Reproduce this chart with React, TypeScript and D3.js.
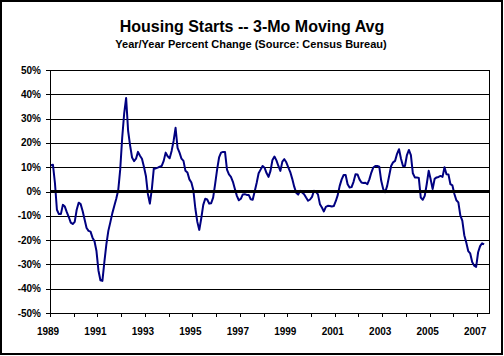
import React from "react";
import * as d3 from "d3";

const title = "Housing Starts -- 3-Mo Moving Avg";
const subtitle = "Year/Year Percent Change (Source: Census Bureau)";

// Monthly, starting Jan 1989 (percent, year/year change of 3-mo moving avg)
const values1989to1994: number[] = [
  10.8, 11.0, 3.5, -7.5, -9.3, -9.3, -5.5, -6.2, -8.5, -10.5, -12.8, -13.4,
  -12.5, -7.5, -4.6, -5.2, -8.0, -11.5, -15.0, -16.2, -16.5, -19.0, -20.5, -24.5,
  -32.5, -36.5, -36.8, -29.0, -21.8, -16.2, -12.7, -9.0, -6.0, -3.0, 0.5, 9.0,
  22.0, 32.0, 38.5, 25.0, 19.0, 14.0, 12.5, 13.5, 16.3, 14.7, 13.5, 10.2,
  6.4, -1.0, -5.0, 1.0, 9.5, 9.5, 9.8, 10.2, 10.5, 12.6, 16.0, 14.5,
  13.7, 16.7, 20.8, 26.2, 18.0, 16.0, 13.5, 12.6, 8.5, 7.8, 5.0, 3.7,
];
const values1995to2000: number[] = [
  0.5, -7.0, -12.5, -15.8, -11.0, -5.5, -3.0, -3.3, -5.0, -4.8, -2.5, 3.0,
  9.0, 14.0, 16.0, 16.3, 16.3, 9.0, 7.0, 6.0, 4.0, 1.0, -1.8, -3.6,
  -3.0, -1.2, -1.1, -1.4, -1.4, -3.2, -3.4, 0.0, 3.5, 7.5, 9.0, 10.5,
  9.8, 7.6, 6.0, 8.5, 13.0, 14.4, 12.8, 10.5, 8.5, 12.3, 13.3, 12.0,
  9.9, 8.0, 5.2, 2.0, -0.5, -1.3, 0.3, -0.4, -1.1, -2.5, -3.8, -3.3,
  -2.2, 0.3, -0.2, -1.2, -5.2, -6.6, -8.2, -6.3, -5.9, -6.0, -6.2, -6.0,
];
const values2001to2007: number[] = [
  -4.0, -1.5, 2.3, 5.0, 6.8, 6.8, 3.0, 1.6, 1.8, 4.0, 7.1, 7.0,
  5.0, 3.7, 3.5, 3.6, 3.0, 5.0, 7.8, 9.9, 10.5, 10.5, 10.2, 4.4,
  1.0, -0.3, 2.3, 6.4, 10.5, 12.0, 12.6, 15.5, 17.4, 13.5, 10.5, 10.5,
  15.0, 17.1, 15.0, 7.5, 5.8, 5.8, 5.6, -2.5, -3.4, -1.8, 3.0, 8.5,
  5.0, 1.0, 5.2, 5.8, 6.0, 6.4, 6.0, 10.0, 7.1, 7.0, 3.0, 2.5,
  -1.0, -3.6, -4.5, -9.8, -12.0, -18.0, -21.0, -24.5, -25.5, -29.0, -30.5, -31.0,
  -25.0, -22.5, -21.3, -21.8,
];
const series: number[] = [...values1989to1994, ...values1995to2000, ...values2001to2007];

const startYear = 1989;
const axisMonths = 222; // categories spanned by the x axis
const tickYears: number[] = d3.range(1989, 2008);
const labelYears: number[] = [1989, 1991, 1993, 1995, 1997, 1999, 2001, 2003, 2005, 2007];
const yTicks: number[] = [-50, -40, -30, -20, -10, 0, 10, 20, 30, 40, 50];

const W = 504;
const H = 356;
const plot = { left: 50, right: 489, top: 70, bottom: 313 };

export default function App() {
  const x = d3.scaleLinear().domain([0, axisMonths]).range([plot.left, plot.right]);
  const y = d3.scaleLinear().domain([-50, 50]).range([plot.bottom, plot.top]);
  const line = d3
    .line<number>()
    .x((_, i) => x(i + 0.5))
    .y((d) => y(d));

  const font = "'Liberation Sans', Arial, sans-serif";

  return (
    <svg
      width={W}
      height={H}
      style={{ position: "absolute", left: 0, top: 0, background: "#fff" }}
      fontFamily={font}
    >
      <rect x={0} y={0} width={W} height={H} fill="#fff" />
      <rect x={1} y={1} width={501} height={353} fill="none" stroke="#000" strokeWidth={2} />

      <text x={252} y={32} textAnchor="middle" fontSize={16} fontWeight="bold" fill="#000">
        {title}
      </text>
      <text x={251} y={48} textAnchor="middle" fontSize={11} fontWeight="bold" fill="#000">
        {subtitle}
      </text>

      {/* gridlines */}
      {yTicks.map((t) => (
        <line
          key={"g" + t}
          x1={plot.left}
          x2={plot.right}
          y1={Math.round(y(t)) + 0.5}
          y2={Math.round(y(t)) + 0.5}
          stroke="#000"
          strokeWidth={1}
        />
      ))}
      {/* plot border */}
      <line x1={plot.left + 0.5} x2={plot.left + 0.5} y1={plot.top} y2={plot.bottom + 1} stroke="#000" />
      <line x1={plot.right + 0.5} x2={plot.right + 0.5} y1={plot.top} y2={plot.bottom + 1} stroke="#000" />

      {/* y ticks + labels */}
      {yTicks.map((t) => (
        <g key={"y" + t}>
          <line
            x1={plot.left - 4}
            x2={plot.left}
            y1={Math.round(y(t)) + 0.5}
            y2={Math.round(y(t)) + 0.5}
            stroke="#000"
          />
          <text
            x={41}
            y={y(t)}
            dy="0.35em"
            textAnchor="end"
            fontSize={10}
            fontWeight="bold"
            fill="#000"
          >
            {t + "%"}
          </text>
        </g>
      ))}

      {/* x ticks + labels */}
      {tickYears.map((yr) => (
        <line
          key={"xt" + yr}
          x1={Math.round(x((yr - startYear) * 12)) + 0.5}
          x2={Math.round(x((yr - startYear) * 12)) + 0.5}
          y1={plot.bottom}
          y2={plot.bottom + 4}
          stroke="#000"
        />
      ))}
      {labelYears.map((yr) => (
        <text
          key={"xl" + yr}
          x={x((yr - startYear) * 12) - 2}
          y={335}
          textAnchor="middle"
          fontSize={10}
          fontWeight="bold"
          fill="#000"
        >
          {yr}
        </text>
      ))}

      {/* data line */}
      <path
        d={line(series) || ""}
        fill="none"
        stroke="#000080"
        strokeWidth={2}
        strokeLinejoin="round"
      />

      {/* zero line */}
      <line x1={plot.left} x2={plot.right} y1={y(0)} y2={y(0)} stroke="#000" strokeWidth={3} />
    </svg>
  );
}
